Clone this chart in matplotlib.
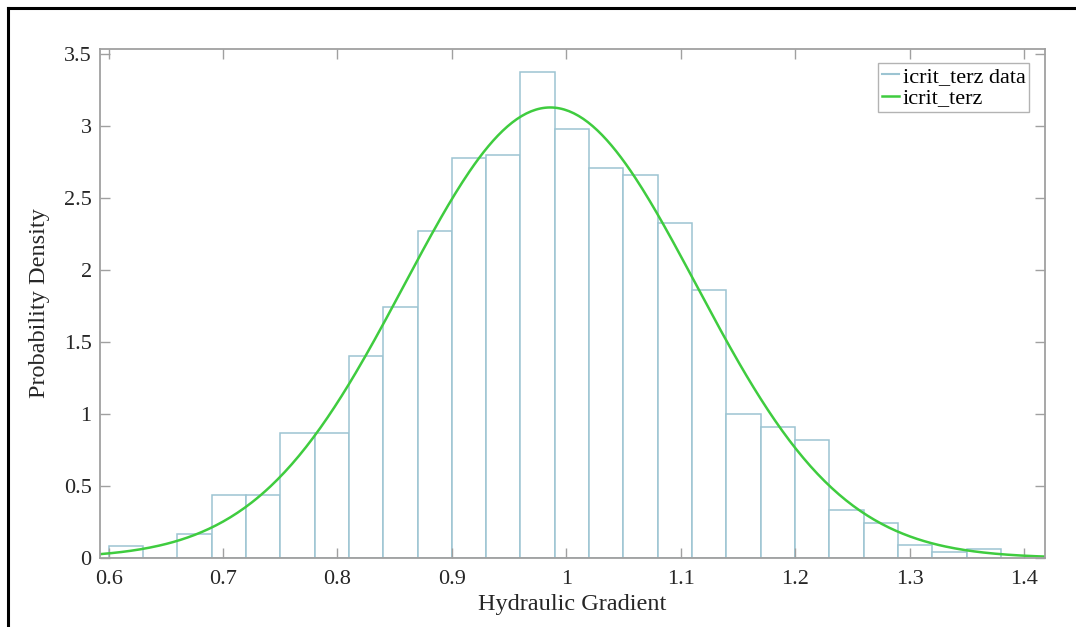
import numpy as np
import matplotlib
matplotlib.use("Agg")
import matplotlib.pyplot as plt
from matplotlib.lines import Line2D

# histogram bins (width 0.03) and densities
bin_left = [0.60, 0.63, 0.66, 0.69, 0.72, 0.75, 0.78, 0.81, 0.84, 0.87,
            0.90, 0.93, 0.96, 0.99, 1.02, 1.05, 1.08, 1.11, 1.14, 1.17,
            1.20, 1.23, 1.26, 1.29, 1.32, 1.35]
density = [0.085, 0.0, 0.17, 0.44, 0.44, 0.866, 0.866, 1.40, 1.74, 2.27,
           2.78, 2.80, 3.375, 2.98, 2.71, 2.66, 2.33, 1.86, 1.00, 0.91,
           0.82, 0.331, 0.243, 0.088, 0.04, 0.065]
bin_width = 0.03

# fitted normal (histfit) parameters
fit_mu = 0.986
fit_sigma = 0.1275

x_ticks = [0.6, 0.7, 0.8, 0.9, 1.0, 1.1, 1.2, 1.3, 1.4]
x_tick_labels = ["0.6", "0.7", "0.8", "0.9", "1", "1.1", "1.2", "1.3", "1.4"]
y_ticks = [0, 0.5, 1, 1.5, 2, 2.5, 3, 3.5]
y_tick_labels = ["0", "0.5", "1", "1.5", "2", "2.5", "3", "3.5"]

plt.rcParams["font.family"] = ["Liberation Serif", "DejaVu Serif"]

bar_edge = "#9cc4d2"
fit_color = "#3fcc3f"
axis_gray = "#a0a0a0"
text_col = "#262626"

fig = plt.figure(figsize=(10.76, 6.27), dpi=100)
ax = fig.add_axes([100 / 1076, 1 - 558 / 627, 945 / 1076, 509 / 627])

ax.bar(bin_left, density, width=bin_width, align="edge", facecolor="white",
       edgecolor=bar_edge, linewidth=1.1, label="icrit_terz data")

xs = np.linspace(0.5925, 1.4184, 400)
pdf = np.exp(-0.5 * ((xs - fit_mu) / fit_sigma) ** 2) / (fit_sigma * np.sqrt(2 * np.pi))
ax.plot(xs, pdf, color=fit_color, linewidth=1.8, label="icrit_terz")

ax.set_xlim(0.5925, 1.4184)
ax.set_ylim(0, 3.535)
ax.set_xticks(x_ticks)
ax.set_xticklabels(x_tick_labels)
ax.set_yticks(y_ticks)
ax.set_yticklabels(y_tick_labels)

for s in ax.spines.values():
    s.set_color(axis_gray)
    s.set_linewidth(1.3)
ax.tick_params(direction="in", length=7, width=1, color=axis_gray,
               top=True, right=True, labelsize=16, labelcolor=text_col)
ax.tick_params(axis="x", pad=9)
ax.tick_params(axis="y", pad=6)

ax.set_xlabel("Hydraulic Gradient", fontsize=17.5, color=text_col, labelpad=3)
ax.set_ylabel("Probability Density", fontsize=17.5, color=text_col, labelpad=10)

handles = [Line2D([0], [0], color=bar_edge, lw=1.5),
           Line2D([0], [0], color=fit_color, lw=1.8)]
leg = ax.legend(handles, ["icrit_terz data", "icrit_terz"], loc="upper right",
                bbox_to_anchor=(0.983, 0.973), fontsize=16, frameon=True,
                fancybox=False, handlelength=0.8, handletextpad=0.15,
                borderpad=0.15, labelspacing=0.05, borderaxespad=0)
leg.get_frame().set_edgecolor(axis_gray)
leg.get_frame().set_linewidth(1.0)

# outer black frame (top and left edges visible)
fig.add_artist(Line2D([8 / 1076, 1], [1 - 8 / 627, 1 - 8 / 627], color="black",
                      lw=2.2, transform=fig.transFigure))
fig.add_artist(Line2D([8 / 1076, 8 / 1076], [0, 1 - 8 / 627], color="black",
                      lw=2.2, transform=fig.transFigure))

fig.savefig("out.png", dpi=100)
